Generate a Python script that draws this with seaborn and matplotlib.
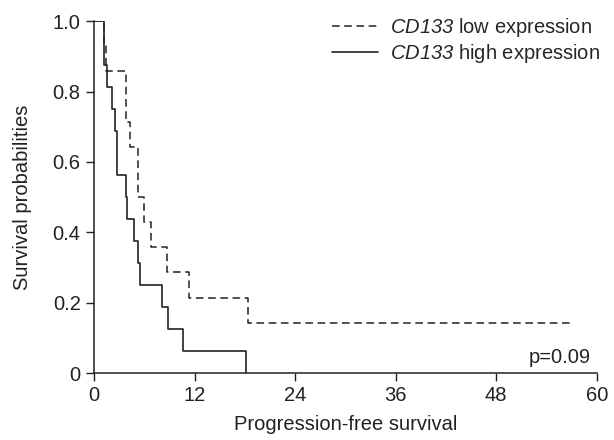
import numpy as np
import pandas as pd
import seaborn as sns
import matplotlib.pyplot as plt
from matplotlib.lines import Line2D

# Kaplan-Meier step points
low_time = [0, 1.2, 1.4, 3.8, 4.35, 5.25, 6.0, 6.85, 8.7, 11.3, 18.4, 57.0]
low_surv = [1.0, 0.929, 0.857, 0.714, 0.643, 0.5, 0.429, 0.357, 0.286, 0.214, 0.143, 0.143]

high_time = [0, 1.2, 1.5, 2.2, 2.5, 2.7, 2.8, 3.8, 3.95, 4.75, 5.3, 5.5, 8.1, 8.85, 10.6, 18.2]
high_surv = [1.0, 0.875, 0.8125, 0.75, 0.6875, 0.625, 0.5625, 0.5, 0.4375, 0.375,
             0.3125, 0.25, 0.1875, 0.125, 0.0625, 0.0]

x_ticks = [0, 12, 24, 36, 48, 60]
y_ticks = [0, 0.2, 0.4, 0.6, 0.8, 1.0]
y_labels = ["0", "0.2", "0.4", "0.6", "0.8", "1.0"]

sns.set_style("ticks")
plt.rcParams['font.family'] = ['Liberation Sans', 'DejaVu Sans']
plt.rcParams['mathtext.fontset'] = 'custom'
plt.rcParams['mathtext.it'] = 'Liberation Sans:italic'
plt.rcParams['mathtext.rm'] = 'Liberation Sans:italic'

ink = '#222222'
fs = 14.5
dash = (0, (5, 3))

fig = plt.figure(figsize=(6.14, 4.4), dpi=100)
ax = fig.add_axes([0.153, 0.152, 0.819, 0.8])

low = pd.DataFrame({'t': low_time, 's': low_surv})
high = pd.DataFrame({'t': high_time, 's': high_surv})

sns.lineplot(data=low, x='t', y='s', ax=ax, sort=False, estimator=None,
             drawstyle='steps-post', color=ink, linestyle=dash, linewidth=1.1)
sns.lineplot(data=high, x='t', y='s', ax=ax, sort=False, estimator=None,
             drawstyle='steps-post', color=ink, linewidth=1.2)

ax.set_xlim(0, 60)
ax.set_ylim(0, 1.0)
ax.set_xticks(x_ticks)
ax.set_yticks(y_ticks)
ax.set_yticklabels(y_labels)
ax.tick_params(labelsize=fs, length=5.5, width=1, color=ink, labelcolor=ink, pad=4)
for side in ['top', 'right']:
    ax.spines[side].set_visible(False)
for side in ['left', 'bottom']:
    ax.spines[side].set_color(ink)
    ax.spines[side].set_linewidth(1.1)
ax.set_xlabel("Progression-free survival", fontsize=fs, color=ink, labelpad=7)
ax.set_ylabel("Survival probabilities", fontsize=fs, color=ink, labelpad=15)

handles = [Line2D([], [], color=ink, linestyle=dash, linewidth=1.1),
           Line2D([], [], color=ink, linewidth=1.2)]
ax.legend(handles, [r"$CD133$ low expression", r"$CD133$ high expression"],
          loc='upper right', bbox_to_anchor=(1.035, 1.055), frameon=False, fontsize=fs,
          handlelength=2.3, labelspacing=0.15, handletextpad=0.6, borderaxespad=0.3)

ax.text(59.3, 0.028, "p=0.09", ha='right', va='baseline', fontsize=fs, color=ink)

fig.savefig("out.png", dpi=100)
